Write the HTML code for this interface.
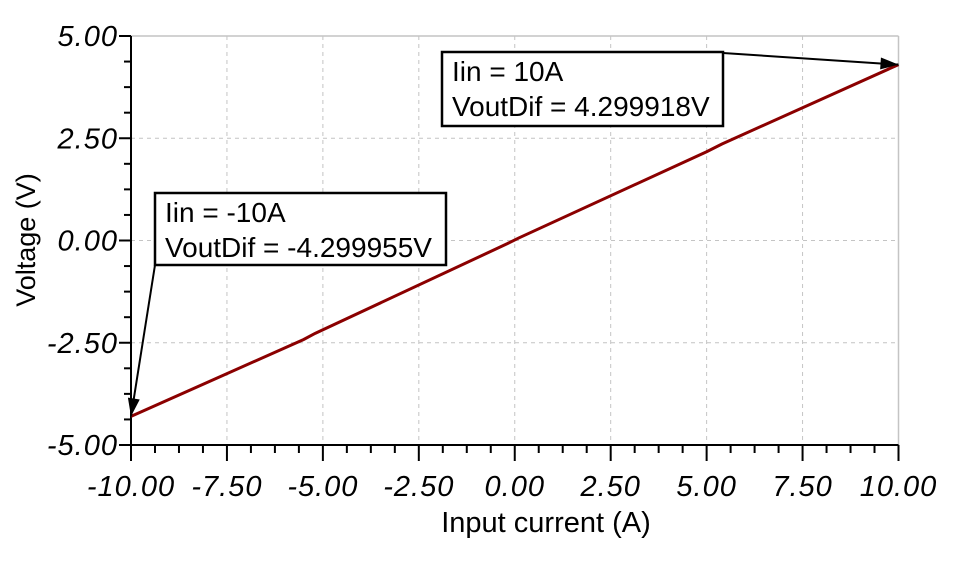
<!DOCTYPE html>
<html><head><meta charset="utf-8"><style>
html,body{margin:0;padding:0;background:#fff;}
svg{display:block;font-family:"Liberation Sans",Arial,sans-serif;}
</style></head><body>
<svg id="chart" width="961" height="563" viewBox="0 0 961 563"></svg>
<script>
const xTicks=[-10,-7.5,-5,-2.5,0,2.5,5,7.5,10];
const xTickLabels=["-10.00","-7.50","-5.00","-2.50","0.00","2.50","5.00","7.50","10.00"];
const yTicks=[-5,-2.5,0,2.5,5];
const yTickLabels=["-5.00","-2.50","0.00","2.50","5.00"];
const seriesX=[-10,-5.5,-5.2,-0.2,0.1,5,5.4,10];
const seriesY=[-4.299955,-2.42,-2.27,-0.08,0.06,2.17,2.36,4.299918];
const ann1=["Iin = 10A","VoutDif = 4.299918V"];
const ann2=["Iin = -10A","VoutDif = -4.299955V"];
const ann1Pt=[10,4.299918], ann2Pt=[-10,-4.299955];

const L=131,R=898.5,T=36,B=445;
const sx=v=>L+(v+10)/20*(R-L);
const sy=v=>B-(v+5)/10*(B-T);
const svg=document.getElementById('chart');
const NS='http://www.w3.org/2000/svg';
function mk(tag,attrs,parent){const e=document.createElementNS(NS,tag);for(const k in attrs)e.setAttribute(k,attrs[k]);(parent||svg).appendChild(e);return e;}

const grid=mk('g',{});


xTicks.forEach(v=>{if(v>-10&&v<10)mk('line',{x1:sx(v),x2:sx(v),y1:T,y2:B,stroke:'#c4c4c4','stroke-dasharray':'4,4'},grid);});
yTicks.forEach(v=>{if(v>-5&&v<5)mk('line',{x1:L,x2:R,y1:sy(v),y2:sy(v),stroke:'#c4c4c4','stroke-dasharray':'4,4'},grid);});
mk('line',{x1:L,x2:R,y1:T,y2:T,stroke:'#c4c4c4','stroke-width':1.5},grid);
mk('line',{x1:R,x2:R,y1:T,y2:B,stroke:'#c4c4c4','stroke-width':1.5},grid);

const ax=mk('g',{stroke:'#000','stroke-width':2});


mk('line',{x1:L,x2:L,y1:T,y2:B},ax);
mk('line',{x1:L,x2:R,y1:B,y2:B},ax);
for(let i=0;i<xTicks.length;i++){
  const v=xTicks[i];
  mk('line',{x1:sx(v),x2:sx(v),y1:B,y2:B+16},ax);
  if(i<xTicks.length-1)for(let k=1;k<4;k++){const m=v+k*(xTicks[i+1]-v)/4;mk('line',{x1:sx(m),x2:sx(m),y1:B,y2:B+8},ax);}
}
for(let i=0;i<yTicks.length;i++){
  const v=yTicks[i];
  mk('line',{x1:L-12,x2:L,y1:sy(v),y2:sy(v)},ax);
  if(i<yTicks.length-1)for(let k=1;k<4;k++){const m=v+k*(yTicks[i+1]-v)/4;mk('line',{x1:L-7,x2:L,y1:sy(m),y2:sy(m)},ax);}
}
xTicks.forEach((v,i)=>{const t=mk('text',{x:sx(v),y:496,'text-anchor':'middle','font-size':29,'font-style':'italic','letter-spacing':1,fill:'#000'});t.textContent=xTickLabels[i];

});
yTicks.forEach((v,i)=>{const t=mk('text',{x:L-13,y:sy(v)+10,'text-anchor':'end','font-size':29,'font-style':'italic','letter-spacing':1,fill:'#000'});t.textContent=yTickLabels[i];

});
const xt=mk('text',{x:546,y:532,'text-anchor':'middle','font-size':29,fill:'#000'});xt.textContent='Input current (A)';


const yt=mk('text',{x:0,y:0,transform:'translate(35,240) rotate(-90)','text-anchor':'middle','font-size':27,fill:'#000'});yt.textContent='Voltage (V)';



const pts=seriesX.map((x,i)=>sx(x)+','+sy(seriesY[i])).join(' ');
const pl=mk('polyline',{points:pts,fill:'none',stroke:'#8b0000','stroke-width':3});



function annot(lines,bx,by,bw,bh,ax0,ay0,pt,name){
  const g=mk('g',{});
  
  
  mk('rect',{x:bx,y:by,width:bw,height:bh,fill:'#fff',stroke:'#000','stroke-width':2.5},g);
  lines.forEach((s,i)=>{const t=mk('text',{x:bx+10,y:by+29+i*35,'font-size':28,fill:'#000'},g);t.textContent=s;});
  const tx=sx(pt[0]),ty=sy(pt[1]);
  mk('line',{x1:ax0,y1:ay0,x2:tx,y2:ty,stroke:'#000','stroke-width':2},g);
  const a=Math.atan2(ty-ay0,tx-ax0),len=18,w=6;
  const p1=[tx-len*Math.cos(a)+w*Math.sin(a),ty-len*Math.sin(a)-w*Math.cos(a)];
  const p2=[tx-len*Math.cos(a)-w*Math.sin(a),ty-len*Math.sin(a)+w*Math.cos(a)];
  mk('polygon',{points:`${tx},${ty} ${p1} ${p2}`,fill:'#000'},g);
}
annot(ann1,442,52,281,74,723,53,ann1Pt,'annotation-10a');
annot(ann2,155,193,291,72,155,265,ann2Pt,'annotation-minus-10a');
</script>
</body></html>
